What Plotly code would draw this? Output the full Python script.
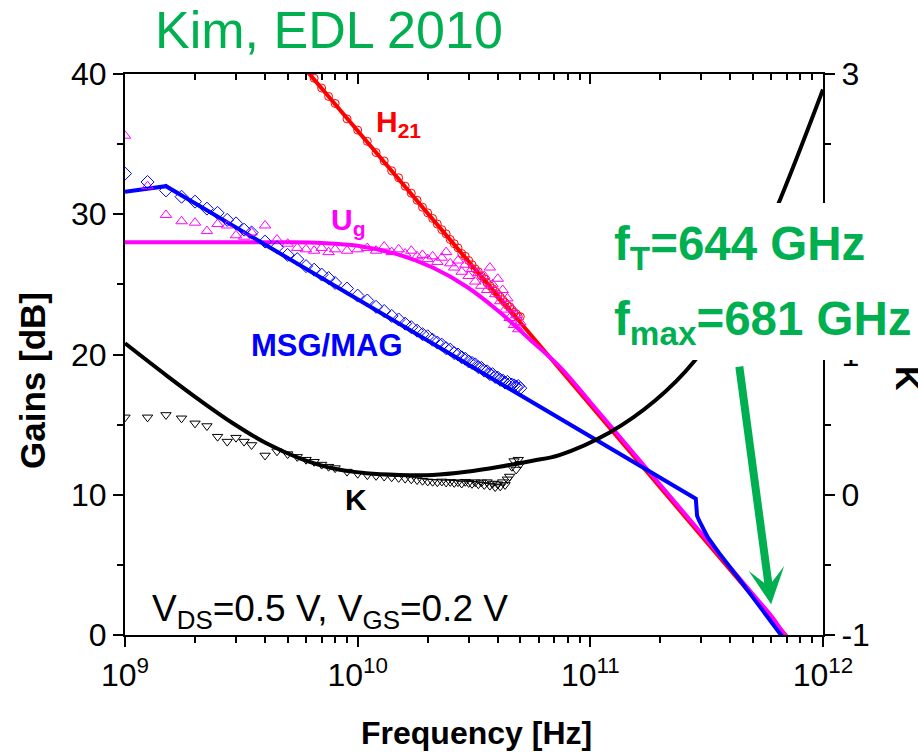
import plotly.graph_objects as go

# ---------------- data ----------------
freq_ghz = [1, 1.25, 1.5, 1.75, 2, 2.25, 2.5, 2.75, 3, 3.25, 3.5,
            4, 4.5, 5, 5.5, 6, 6.5, 7, 7.5, 8,
            9, 10,
            11, 12, 13, 14, 15, 16, 17, 18, 19, 20,
            21, 22, 23, 24, 25, 26, 27, 28, 29, 30,
            31, 32, 33, 34, 35, 36, 37, 38, 39, 40,
            41, 42, 43, 44, 45, 46, 47, 48, 49, 50]

h21_meas = [55.5, 53.7, 52.0, 50.8, 49.6, 48.7, 47.7, 47.0, 46.2, 45.5, 44.9,
            43.8, 42.7, 41.9, 41.0, 40.3, 39.7, 39.0, 38.4, 37.9,
            36.8, 36.0,
            35.2, 34.4, 33.8, 33.1, 32.6, 32.0, 31.5, 31.0, 30.5, 30.1,
            29.7, 29.3, 28.9, 28.6, 28.2, 27.9, 27.6, 27.2, 27.0, 26.7,
            26.4, 26.1, 25.9, 25.6, 25.4, 25.1, 24.9, 24.7, 24.5, 24.3,
            24.1, 23.9, 23.7, 23.5, 23.4, 23.2, 23.0, 22.9, 22.7, 22.7]

msg_meas = [32.9, 32.3, 31.7, 31.25, 30.9, 30.4, 30.1, 29.6, 29.35, 28.9, 28.7,
            28.05, 27.65, 27.1, 26.8, 26.3, 26.05, 25.7, 25.45, 25.1,
            24.7, 24.2,
            23.85, 23.4, 23.1, 22.75, 22.5, 22.2, 21.95, 21.7, 21.45, 21.3,
            21.05, 20.85, 20.7, 20.45, 20.35, 20.1, 20.0, 19.8, 19.7, 19.5,
            19.4, 19.3, 19.1, 19.05, 18.85, 18.8, 18.6, 18.6, 18.4, 18.35,
            18.2, 18.15, 18.0, 18.05, 17.9, 17.85, 17.8, 17.7, 17.75, 17.6]

ug_meas = [35.6, 32.0, 29.95, 29.5, 29.4, 28.8, 29.3, 29.2, 28.5, 28.4, 28.7,
           29.2, 28.2, 27.9, 27.6, 27.5, 27.4, 27.6, 27.3, 27.5,
           27.4, 27.5,
           27.6, 27.4, 27.7, 27.3, 27.5, 27.2, 27.4, 27.0, 27.1, 26.8,
           27.0, 26.6, 26.9, 27.3, 26.5, 26.2, 26.7, 25.9, 26.4, 25.6,
           26.1, 25.2, 25.8, 24.9, 25.6, 24.6, 26.2, 25.0, 24.3, 25.4,
           23.8, 24.6, 23.2, 24.0, 22.6, 23.3, 22.1, 22.8, 21.8, 22.3]

k_meas = [0.552, 0.552, 0.569, 0.545, 0.509, 0.49, 0.414, 0.379, 0.407, 0.379, 0.355,
          0.28, 0.31, 0.29, 0.27, 0.25, 0.235, 0.215, 0.20, 0.19,
          0.165, 0.15,
          0.14, 0.135, 0.13, 0.125, 0.12, 0.115, 0.11, 0.105, 0.10, 0.095,
          0.093, 0.09, 0.095, 0.088, 0.092, 0.085, 0.09, 0.08, 0.093, 0.085,
          0.078, 0.09, 0.075, 0.088, 0.07, 0.09, 0.065, 0.08, 0.055, 0.075,
          0.06, 0.09, 0.07, 0.11, 0.13, 0.2, 0.24, 0.18, 0.25, 0.22]

# fitted / modelled curves
h21_fit_f = [1, 6.22, 66.7, 690, 750]
h21_fit = [55.5, 40.0, 19.84, 0.0, -0.71]

ug_fit_f = [1, 3, 5, 7, 10, 15.1, 21, 29.3, 40.6, 54.7, 73.6, 100, 150, 200, 300, 400, 500, 600, 685, 750]
ug_fit = [28.0, 28.0, 28.0, 27.95, 27.75, 27.1, 26.2, 24.85, 23.05, 21.1, 19.15, 16.6, 13.15, 10.7, 7.25, 4.8, 2.9, 1.35, 0.0, -0.8]

msg_fit_f = [1, 1.5, 284, 284.6, 287.6, 293.6, 303.4, 320, 358, 436, 660, 720]
msg_fit = [31.6, 32.0, 9.72, 8.9, 8.5, 8.15, 7.72, 6.95, 5.83, 4.0, 0.0, -0.6]

k_fit_f = [1, 1.51, 2.1, 2.92, 4.05, 5.64, 7.83, 10.9, 15.1, 21.0, 29.3, 40.7, 56.5, 73.6,
           121, 190, 279, 415, 628, 1000]
k_fit = [1.08, 0.850, 0.673, 0.508, 0.367, 0.26, 0.188, 0.153, 0.141, 0.141, 0.164, 0.20, 0.243, 0.283,
         0.444, 0.672, 0.950, 1.378, 2.034, 2.89]

x_major = [1e9, 1e10, 1e11, 1e12]
x_major_text = ['10<sup>9</sup>', '10<sup>10</sup>', '10<sup>11</sup>', '10<sup>12</sup>']
x_minor = [m * d for d in (1e9, 1e10, 1e11) for m in range(2, 10)]
y_major = [0, 10, 20, 30, 40]
y_minor = [5, 15, 25, 35]
k_major = [-1, 0, 1, 2, 3]
k_minor = [-0.5, 0.5, 1.5, 2.5]

GHZ = 1e9
FONT = "Arial, Liberation Sans, sans-serif"
GREEN = "#00B050"
RED = "#FF0000"
MAG = "#FF00FF"
BLUE = "#0000FF"

def hz(lst):
    return [v * GHZ for v in lst]

fig = go.Figure()

# fitted lines (left axis)
fig.add_trace(go.Scatter(x=hz(h21_fit_f), y=h21_fit, mode='lines',
                         line=dict(color=RED, width=4), showlegend=False, hoverinfo='skip'))
fig.add_trace(go.Scatter(x=hz(ug_fit_f), y=ug_fit, mode='lines',
                         line=dict(color=MAG, width=4, shape='spline', smoothing=1.0),
                         showlegend=False, hoverinfo='skip'))
fig.add_trace(go.Scatter(x=hz(msg_fit_f), y=msg_fit, mode='lines',
                         line=dict(color=BLUE, width=4), showlegend=False, hoverinfo='skip'))

# measured markers (left axis)
fig.add_trace(go.Scatter(x=hz(freq_ghz), y=h21_meas, mode='markers',
                         marker=dict(symbol='circle-open', size=8, color=RED, line=dict(width=1)),
                         showlegend=False))
fig.add_trace(go.Scatter(x=hz(freq_ghz), y=ug_meas, mode='markers',
                         marker=dict(symbol='triangle-up-open', size=10, color=MAG, line=dict(width=1)),
                         showlegend=False))
fig.add_trace(go.Scatter(x=hz(freq_ghz), y=msg_meas, mode='markers',
                         marker=dict(symbol='diamond-open', size=10, color=BLUE, line=dict(width=1)),
                         showlegend=False))

# K (right axis)
fig.add_trace(go.Scatter(x=hz(k_fit_f), y=k_fit, mode='lines', yaxis='y2',
                         line=dict(color='black', width=4, shape='spline', smoothing=1.0),
                         showlegend=False, hoverinfo='skip'))
fig.add_trace(go.Scatter(x=hz(freq_ghz), y=k_meas, mode='markers', yaxis='y2',
                         marker=dict(symbol='triangle-down-open', size=9, color='black', line=dict(width=1)),
                         showlegend=False))

# invisible trace to anchor top mirror axis
fig.add_trace(go.Scatter(x=hz(h21_fit_f), y=h21_fit, mode='lines', xaxis='x2',
                         line=dict(color='rgba(0,0,0,0)', width=0), showlegend=False, hoverinfo='skip'))

axis_common = dict(showline=True, linewidth=2, linecolor='black', showgrid=False, zeroline=False,
                   tickcolor='black', tickwidth=2)

def px(xp):
    return (xp - 125) / 698.0

def py(yp):
    return (635 - yp) / 561.0

fig.update_layout(
    width=918, height=752,
    margin=dict(l=125, r=95, t=74, b=117),
    paper_bgcolor='white', plot_bgcolor='white',
    font=dict(family=FONT, color='black'),
    xaxis=dict(type='log', range=[9, 12], tickmode='array', tickvals=x_major, ticktext=x_major_text,
               ticks='outside', ticklen=10, tickfont=dict(size=32, family=FONT, color='black'),
               minor=dict(tickvals=x_minor, ticks='outside', ticklen=6, tickwidth=2, tickcolor='black', showgrid=False),
               ticklabelstandoff=1,
               **axis_common),
    xaxis2=dict(type='log', range=[9, 12], overlaying='x', side='top', anchor='y',
                tickmode='array', tickvals=x_major, showticklabels=False,
                ticks='inside', ticklen=10,
                minor=dict(tickvals=x_minor, ticks='inside', ticklen=6, tickwidth=2, tickcolor='black', showgrid=False),
                **axis_common),
    yaxis=dict(range=[0, 40], tickmode='array', tickvals=y_major, ticks='outside', ticklen=10,
               tickfont=dict(size=32, family=FONT, color='black'),
               minor=dict(tickvals=y_minor, ticks='outside', ticklen=6, tickwidth=2, tickcolor='black', showgrid=False),
               **axis_common),
    yaxis2=dict(range=[-1, 3], overlaying='y', side='right', anchor='x', tickmode='array',
                tickvals=k_major, ticktext=[str(v) for v in k_major], ticks='outside', ticklen=10,
                tickfont=dict(size=32, family=FONT, color='black'),
                minor=dict(tickvals=k_minor, ticks='outside', ticklen=6, tickwidth=2, tickcolor='black', showgrid=False),
                **axis_common),
    # white box behind the f_T / f_max text, hiding part of the right axis
    shapes=[dict(type='rect', xref='paper', yref='paper', x0=px(605), x1=px(935), y0=py(360), y1=py(203),
                 fillcolor='white', line=dict(width=0), layer='above')],
)

ann = []
# right axis title
ann.append(dict(text='<b>K</b>', x=px(908), y=py(378), xref='paper', yref='paper', showarrow=False,
                textangle=90, font=dict(size=34, color='black', family=FONT), xanchor='center', yanchor='middle'))
ann.append(dict(text='<b>f<sub>T</sub>=644 GHz</b>', x=px(612), y=py(247), xref='paper', yref='paper',
                showarrow=False, xanchor='left', yanchor='middle', font=dict(size=47.5, color=GREEN, family=FONT)))
ann.append(dict(text='<b>f<sub>max</sub>=681 GHz</b>', x=px(612), y=py(322), xref='paper', yref='paper',
                showarrow=False, xanchor='left', yanchor='middle', font=dict(size=47.5, color=GREEN, family=FONT)))
# green arrow
ann.append(dict(text='', x=11.777, y=2.2, xref='x', yref='y', showarrow=True, ax=-32, ay=-239,
                arrowhead=3, arrowsize=0.75, arrowwidth=8, arrowcolor=GREEN, standoff=0))
# title
ann.append(dict(text='Kim, EDL 2010', x=px(153), y=py(30), xref='paper', yref='paper', showarrow=False,
                xanchor='left', yanchor='middle', font=dict(size=52, color=GREEN, family=FONT)))
# curve labels
ann.append(dict(text='<b>H<sub>21</sub></b>', x=px(374), y=py(123), xref='paper', yref='paper', showarrow=False,
                xanchor='left', yanchor='middle', font=dict(size=30, color=RED, family=FONT)))
ann.append(dict(text='<b>U<sub>g</sub></b>', x=px(329), y=py(221), xref='paper', yref='paper', showarrow=False,
                xanchor='left', yanchor='middle', font=dict(size=30, color=MAG, family=FONT)))
ann.append(dict(text='<b>MSG/MAG</b>', x=px(249), y=py(345), xref='paper', yref='paper', showarrow=False,
                xanchor='left', yanchor='middle', font=dict(size=31, color=BLUE, family=FONT)))
ann.append(dict(text='<b>K</b>', x=px(356), y=py(499), xref='paper', yref='paper', showarrow=False,
                xanchor='center', yanchor='middle', font=dict(size=30, color='black', family=FONT)))
ann.append(dict(text='V<sub>DS</sub>=0.5 V, V<sub>GS</sub>=0.2 V', x=px(150), y=py(611), xref='paper', yref='paper',
                showarrow=False, xanchor='left', yanchor='middle', font=dict(size=37, color='black', family=FONT)))
# axis titles
ann.append(dict(text='<b>Gains [dB]</b>', x=px(32), y=py(380), xref='paper', yref='paper', showarrow=False,
                textangle=-90, xanchor='center', yanchor='middle', font=dict(size=35, color='black', family=FONT)))
ann.append(dict(text='<b>Frequency [Hz]</b>', x=px(476), y=py(733), xref='paper', yref='paper', showarrow=False,
                xanchor='center', yanchor='middle', font=dict(size=32, color='black', family=FONT)))

fig.update_layout(annotations=ann)

fig.write_html("out.html")
